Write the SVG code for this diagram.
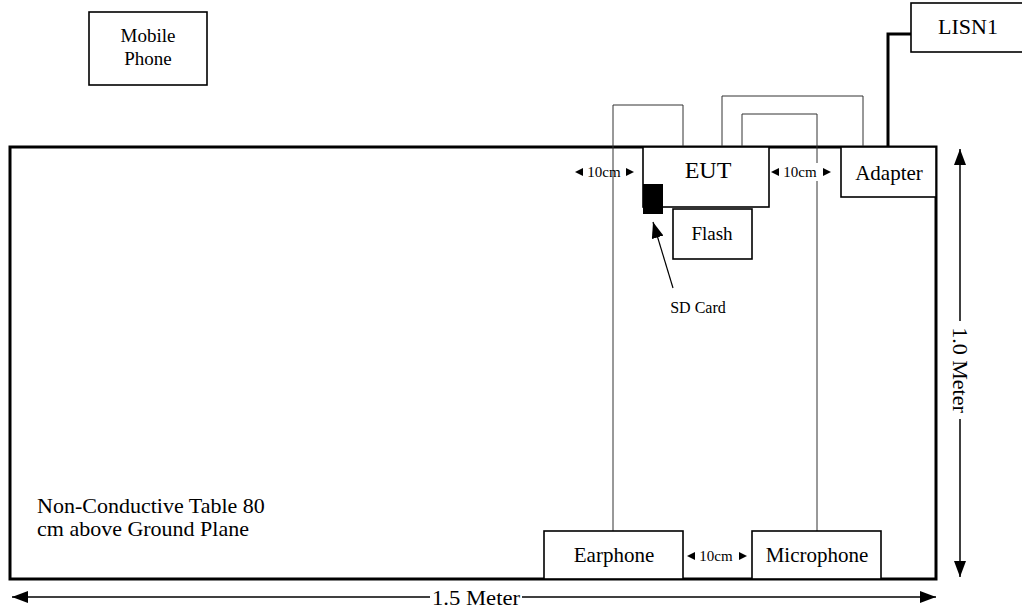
<svg xmlns="http://www.w3.org/2000/svg" width="1022" height="613" viewBox="0 0 1022 613">
<style>
text{font-family:"Liberation Serif",serif;fill:#000}
.box{fill:#fff;stroke:#000;stroke-width:1.6}
.cable{fill:none;stroke:#333;stroke-width:1}
.dim{fill:none;stroke:#000;stroke-width:1.5}
.tri{fill:#000}
</style>
<defs>
<marker id="big" viewBox="0 0 16 12" refX="16" refY="6" markerWidth="16" markerHeight="12" markerUnits="userSpaceOnUse" orient="auto-start-reverse"><path d="M0,0 L16,6 L0,12 Z" fill="#000"/></marker>
</defs>
<rect width="1022" height="613" fill="#fff"/>
<g id="table">
<rect x="10" y="147" width="926" height="432" fill="#fff" stroke="#000" stroke-width="3"/>
<text x="37" y="513" font-size="22">Non-Conductive Table 80</text>
<text x="37" y="536" font-size="22">cm above Ground Plane</text>
</g>
<g id="connectors">
<polyline class="cable" points="613,531 613,105 683,105 683,147"/>
<polyline class="cable" points="722,147 722,96 863,96 863,147"/>
<polyline class="cable" points="742,147 742,114 817,114 817,531"/>
<polyline points="888,147 888,34 911,34" fill="none" stroke="#000" stroke-width="3"/>
<line x1="673" y1="288" x2="653" y2="222" stroke="#000" stroke-width="1.2" marker-end="url(#big)"/>
<line x1="960" y1="149" x2="960" y2="577" class="dim" marker-start="url(#big)" marker-end="url(#big)"/>
<line x1="12" y1="597" x2="936" y2="597" class="dim" marker-start="url(#big)" marker-end="url(#big)"/>
</g>
<g id="mobile">
<rect class="box" x="89" y="12" width="118" height="73"/>
<text x="148" y="42" font-size="19" text-anchor="middle">Mobile</text>
<text x="148" y="65" font-size="19" text-anchor="middle">Phone</text>
</g>
<g id="lisn">
<rect class="box" x="911" y="3" width="120" height="49"/>
<text x="968" y="34" font-size="22" text-anchor="middle">LISN1</text>
</g>
<g id="eut">
<rect class="box" x="643" y="147" width="126" height="60"/>
<text x="708" y="178" font-size="24" text-anchor="middle">EUT</text>
</g>
<g id="flash">
<rect class="box" x="673" y="209" width="79" height="50"/>
<text x="712" y="240" font-size="19" text-anchor="middle">Flash</text>
</g>
<g id="sdcard">
<rect x="643" y="184" width="20" height="30" fill="#000"/>
<text x="698" y="313" font-size="16" text-anchor="middle">SD Card</text>
</g>
<g id="adapter">
<rect class="box" x="841" y="147" width="95" height="50"/>
<text x="889" y="180" font-size="21" text-anchor="middle">Adapter</text>
</g>
<g id="earphone">
<rect class="box" x="544" y="531" width="139" height="48"/>
<text x="614" y="562" font-size="21" text-anchor="middle">Earphone</text>
</g>
<g id="microphone">
<rect class="box" x="752" y="531" width="129" height="48"/>
<text x="817" y="562" font-size="21" text-anchor="middle">Microphone</text>
</g>
<g id="spacing">
<polygon class="tri" points="575,172 583,168 583,176"/>
<text x="604" y="177" font-size="15" text-anchor="middle">10cm</text>
<polygon class="tri" points="634,172 626,168 626,176"/>
<rect x="779" y="163" width="43" height="18" fill="#fff"/>
<polygon class="tri" points="771,172 779,168 779,176"/>
<text x="800" y="177" font-size="15" text-anchor="middle">10cm</text>
<polygon class="tri" points="831,172 823,168 823,176"/>
<polygon class="tri" points="687,556 695,552 695,560"/>
<text x="716" y="561" font-size="15" text-anchor="middle">10cm</text>
<polygon class="tri" points="747,556 739,552 739,560"/>
</g>
<g id="dims">
<rect x="430" y="587" width="92" height="22" fill="#fff"/>
<text x="476" y="605" font-size="22" text-anchor="middle" textLength="88" lengthAdjust="spacingAndGlyphs">1.5 Meter</text>
<rect x="950" y="321" width="20" height="98" fill="#fff"/>
<text x="0" y="0" font-size="22" text-anchor="middle" transform="translate(953 370) rotate(90)">1.0 Meter</text>
</g>
</svg>
